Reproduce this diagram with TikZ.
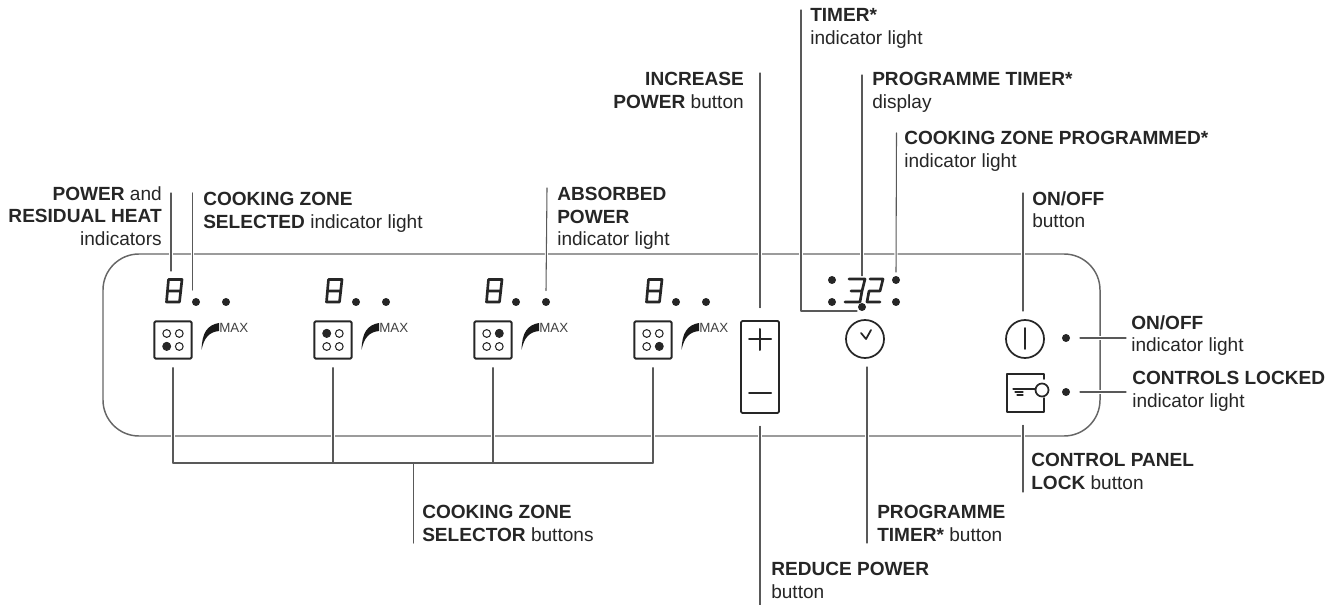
\documentclass[tikz,border=0pt]{standalone}
\usepackage{fontspec}
\setmainfont{Liberation Sans}
\newcommand{\segeight}[1]{\draw[seg, line width=2pt, shift={(#1,0)}] (2.5,279.5)--(16,279.5)--(13.5,302)--(0.5,302)--cycle (1.5,291)--(15,291);}
\begin{document}
\begin{tikzpicture}[x=0.75pt, y=-0.75pt, line join=round, line cap=round, font=\fontsize{14.3}{17}\selectfont,
		leader/.style={draw=black!65, line width=0.8pt, preaction={draw=white, line width=2.4pt}},
		busline/.style={draw=black!65, line width=0.8pt},
		panel/.style={draw=black!60, line width=1.1pt, rounded corners=27pt},
		seg/.style={draw=black!85, line width=1.5pt},
		dotlight/.style={circle, fill=black!85, inner sep=0pt, minimum size=6pt},
		lamp/.style={circle, draw=black!85, line width=0.8pt, inner sep=0pt, minimum size=5.8pt},
		zonebtn/.style={draw=black!85, line width=1.4pt, rounded corners=1pt, minimum size=28pt, inner sep=0pt, outer sep=6.75pt},
		roundbtn/.style={circle, draw=black!85, line width=1.3pt, minimum size=28.5pt, inner sep=0pt, outer sep=6.75pt},
		tag/.style={inner sep=0pt, align=left, anchor=north west, text=black!85, execute at begin node=\rule{0pt}{12pt}},
		tagright/.style={inner sep=0pt, align=right, anchor=north east, text=black!85, execute at begin node=\rule{0pt}{12pt}}]
	\useasboundingbox (0,0) rectangle (1337,605);
	\draw[panel] (103,254) rectangle (1100,436);
	%zone columns
	\foreach \nm/\cx/\fx/\fy in {A/173/166.7/346, B/333/326.7/333, C/493/499.3/333, D/653/659.3/346} {
		\node[zonebtn] (zone\nm) at (\cx,340) {};
		\foreach \lx in {-6.3,6.3} \foreach \ly in {-6.5,6.5} \node[lamp] at ([shift={(\lx,\ly)}]\cx,340) {};
		\node[dotlight, minimum size=6.2pt] at (\fx,\fy) {};
		\fill[black!90, shift={(\cx,0)}] (28.5,350) .. controls (29,333) and (34,325) .. (46,323) -- (46,331) .. controls (36,332) and (31,338) .. (28.5,350) -- cycle;
		\node[inner sep=0pt, anchor=west, text=black!75, font=\fontsize{10}{12}\selectfont] (max\nm) at (\cx+46,328) {MAX};
		\segeight{\cx-7}
		\node[dotlight] (dot\nm a) at (\cx+23,302) {};
		\node[dotlight] (dot\nm b) at (\cx+53,302) {};
	}
	\coordinate (digtop) at (171,271);
	%power buttons
	\node[draw=black!85, line width=1.4pt, rounded corners=1pt, minimum width=28.5pt, minimum height=69pt, inner sep=0pt, outer sep=10pt] (powerbtn) at (760,367) {};
	\draw[seg] (749,339)--(771,339) (760,329)--(760,350);
	\draw[seg] (749,393)--(771,393);
	%timer display
	\draw[seg, line width=2pt] (849,279)--(865,279)--(862,291)--(851,291) (862,291)--(860,302)--(845,302);
	\draw[seg, line width=2pt] (870,279)--(883,279)--(880,291)--(869,291)--(867,302)--(880,302);
	\node[dotlight] (timeA) at (832,280) {};
	\node[dotlight] (timeB) at (832,302) {};
	\node[dotlight] (timeC) at (896,280) {};
	\node[dotlight] (timeD) at (896,302) {};
	\node[dotlight] (timeE) at (862,307) {};
	\node[roundbtn] (clockbtn) at (865,339) {};
	\draw[seg, line width=1.3pt] (861,333)--(866,339)--(871,330);
	%on/off and lock
	\node[roundbtn] (onbtn) at (1025,339) {};
	\draw[seg, line width=1.3pt] (1025,328)--(1025,349);
	\node[dotlight] (ondot) at (1066,338) {};
	\node[dotlight] (lockdot) at (1066,392) {};
	\node[minimum width=28pt, minimum height=28.5pt, inner sep=0pt, outer sep=10pt] (lockbtn) at (1025.5,393) {};
	\draw[seg, line width=1.3pt] (1044,379)--(1044,374)--(1007,374)--(1007,412)--(1044,412)--(1044,398);
	\draw[seg, line width=1.3pt] (1042,390) circle (6.5) (1023,389)--(1035.5,389);
	\draw[seg, line width=0.8pt] (1013,389)--(1023,389) (1015,392)--(1023,392) (1017,395)--(1023,395);
	%labels
	\node[tagright] (powerlbl) at (162,186) {\textbf{POWER} and\\\textbf{RESIDUAL HEAT}\\indicators};
	\node[tag] (selectedlbl) at (203,192) {\textbf{COOKING ZONE}\\\textbf{SELECTED} indicator light};
	\node[tag] (absorbedlbl) at (557,187) {\textbf{ABSORBED}\\\textbf{POWER}\\indicator light};
	\node[tagright] (increaselbl) at (744,72) {\textbf{INCREASE}\\\textbf{POWER} button};
	\node[tag] (timerlbl) at (810,8) {\textbf{TIMER*}\\indicator light};
	\node[tag] (displaylbl) at (872,72) {\textbf{PROGRAMME TIMER*}\\display};
	\node[tag] (programmedlbl) at (904,131) {\textbf{COOKING ZONE PROGRAMMED*}\\indicator light};
	\node[tag] (onlbl) at (1032,191) {\textbf{ON/OFF}\\button};
	\node[tag] (onlightlbl) at (1131,315) {\textbf{ON/OFF}\\indicator light};
	\node[tag] (locklightlbl) at (1132,371) {\textbf{CONTROLS LOCKED}\\indicator light};
	\node[tag] (panellbl) at (1031,453) {\textbf{CONTROL PANEL}\\\textbf{LOCK} button};
	\node[tag] (clocklbl) at (877,505) {\textbf{PROGRAMME}\\\textbf{TIMER*} button};
	\node[tag] (selectorlbl) at (422,505) {\textbf{COOKING ZONE}\\\textbf{SELECTOR} buttons};
	\node[tag] (reducelbl) at (771,562) {\textbf{REDUCE POWER}\\button};
	%leader ends
	\coordinate (powertop) at (171,193);
	\coordinate (selectedtop) at (192.5,193);
	\coordinate (selectedend) at (192.5,290);
	\coordinate (absorbedtop) at (547,188);
	\coordinate (increasetop) at (760,73);
	\coordinate (timertop) at (801,10);
	\coordinate (timerbend) at (801,311);
	\coordinate (timerend) at (857,311);
	\coordinate (displaytop) at (862,75);
	\coordinate (programmedtop) at (896.5,133);
	\coordinate (ontop) at (1023,193);
	\coordinate (onlightend) at (1126,337.5);
	\coordinate (locklightend) at (1126,392);
	\coordinate (panelend) at (1023,492);
	\coordinate (clockend) at (867,543);
	\coordinate (reduceend) at (760,605);
	\coordinate (busjoin) at (413.5,463);
	\coordinate (busend) at (413.5,543);
	%leaders
	\draw[leader] (powertop) -- (digtop);
	\draw[leader] (selectedtop) -- (selectedend);
	\draw[leader] (absorbedtop) -- ([yshift=8.5pt]dotCb.center);
	\draw[leader] (increasetop) -- (powerbtn.north);
	\draw[leader] (timertop) -- (timerbend) -- (timerend);
	\draw[leader] (displaytop) -- (displaytop |- timeA.north);
	\draw[leader] (programmedtop) -- ([yshift=6pt]timeC.center);
	\draw[leader] (ontop) -- (onbtn.north -| ontop);
	\draw[leader] ([xshift=10.5pt]ondot.center) -- (ondot.center -| onlightend);
	\draw[leader] ([xshift=10.5pt]lockdot.center) -- (locklightend);
	\draw[leader] (lockbtn.south -| panelend) -- (panelend);
	\draw[leader] (clockbtn.south -| clockend) -- (clockend);
	\draw[leader] (powerbtn.south) -- (reduceend);
	\draw[leader] (zoneA.south) -- (zoneA.south |- busjoin);
	\draw[leader] (zoneB.south) -- (zoneB.south |- busjoin);
	\draw[leader] (zoneC.south) -- (zoneC.south |- busjoin);
	\draw[leader] (zoneD.south) -- (zoneD.south |- busjoin);
	\draw[busline] (zoneA.south |- busjoin) -- (zoneD.south |- busjoin);
	\draw[busline] (busjoin) -- (busend);
\end{tikzpicture}
\end{document}
